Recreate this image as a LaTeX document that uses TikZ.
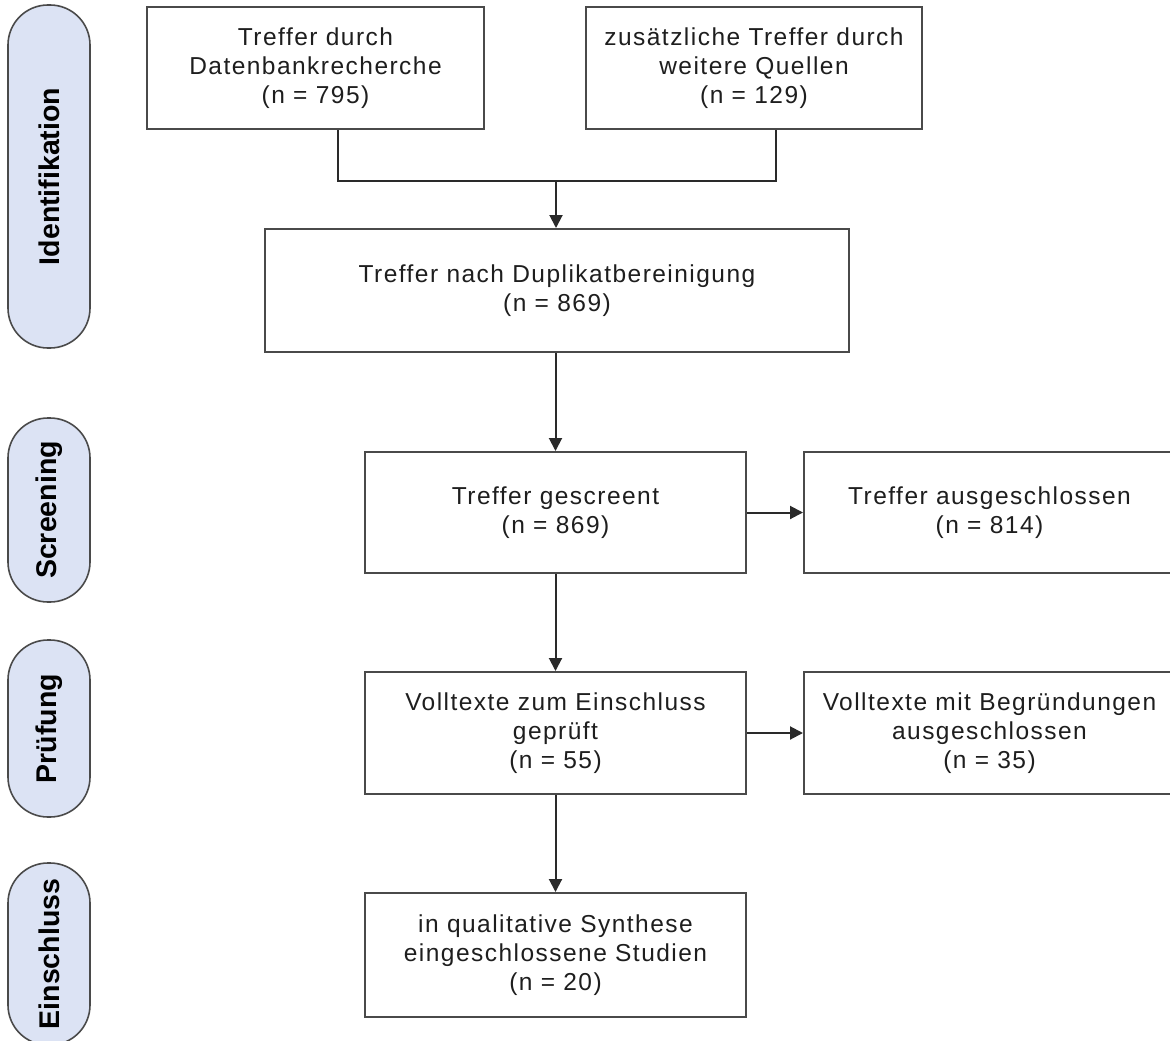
\documentclass[tikz,border=0pt]{standalone}
\usepackage{fontspec}
\setmainfont{Liberation Sans}
\newfontfamily\boxfont{Liberation Sans}[LetterSpace=6]
\newfontfamily\phasefont{Liberation Sans}
\usetikzlibrary{arrows.meta}

\definecolor{boxline}{HTML}{4A4A4A}
\definecolor{linkline}{HTML}{2A2A2A}
\definecolor{txt}{HTML}{1E1E1E}
\definecolor{phasefill}{HTML}{DCE3F4}

\tikzset{
  flowbox/.style={draw=boxline, line width=2pt, fill=white, text=txt,
    align=center, inner sep=4pt,
    font=\boxfont\fontsize{24.5}{29}\selectfont},
  phase/.style={draw=boxline, line width=1.6pt, fill=phasefill, text=black,
    rotate=90, rounded corners=40pt, minimum height=82pt, inner sep=0pt,
    font=\phasefont\bfseries\fontsize{28.5}{32}\selectfont},
  link/.style={draw=linkline, line width=2pt},
  arr/.style={link, -{Triangle[length=13pt,width=13pt]}}
}

\begin{document}
\begin{tikzpicture}[x=1pt, y=-1pt]
  \useasboundingbox (0,0) rectangle (1170,1041);
  \clip (0,0) rectangle (1170,1041);

  % phase labels on the left
  \node[phase, minimum width=343pt] (pid)  at (49,176.5) {Identifikation};
  \node[phase, minimum width=184pt] (pscr) at (49,510)   {Screening};
  \node[phase, minimum width=177pt] (ppr)  at (49,728.5) {Prüfung};
  \node[phase, minimum width=182pt] (pein) at (49,954)   {Einschluss};

  % identification
  \node[flowbox, minimum width=337pt, minimum height=122pt] (db) at (315.5,68)
    {Treffer durch\\Datenbankrecherche\\(n = 795)};
  \node[flowbox, minimum width=336pt, minimum height=122pt] (extra) at (754,68)
    {zusätzliche Treffer durch\\weitere Quellen\\(n = 129)};
  \node[flowbox, minimum width=584pt, minimum height=123pt] (dedup) at (557,290.5)
    {Treffer nach Duplikatbereinigung\\(n = 869)};

  % screening
  \node[flowbox, minimum width=381pt, minimum height=121pt] (scr) at (555.5,512.5)
    {Treffer gescreent\\(n = 869)};
  \node[flowbox, minimum width=371pt, minimum height=121pt] (scrx) at (989.5,512.5)
    {Treffer ausgeschlossen\\(n = 814)};

  % full-text check
  \node[flowbox, minimum width=381pt, minimum height=122pt] (ft) at (555.5,733)
    {Volltexte zum Einschluss\\geprüft\\(n = 55)};
  \node[flowbox, minimum width=371pt, minimum height=122pt] (ftx) at (989.5,733)
    {Volltexte mit Begründungen\\ausgeschlossen\\(n = 35)};

  % inclusion
  \node[flowbox, minimum width=381pt, minimum height=124pt] (inc) at (555.5,955)
    {in qualitative Synthese\\eingeschlossene Studien\\(n = 20)};

  % merge of the two sources
  \coordinate (mL) at (338,181);
  \coordinate (mR) at (776,181);
  \coordinate (mC) at (556,181);
  \draw[link] (db.south -| mL) -- (mL) -- (mR) -- (extra.south -| mR);
  \draw[arr] (mC) -- (dedup.north -| mC);

  % main flow
  \draw[arr] (dedup.south -| scr.north) -- (scr.north);
  \draw[arr] (scr.south) -- (ft.north);
  \draw[arr] (ft.south) -- (inc.north);

  % exclusions
  \draw[arr] (scr.east) -- (scrx.west);
  \draw[arr] (ft.east) -- (ftx.west);
\end{tikzpicture}
\end{document}
